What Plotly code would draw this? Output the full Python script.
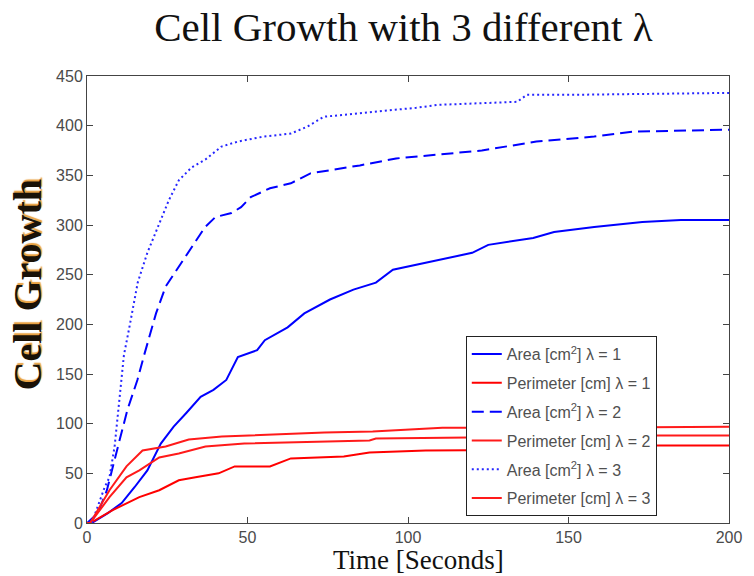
import plotly.graph_objects as go

# Area curves (cm^2) sampled over time (s)
t_area1 = [0, 1.5, 6.5, 10.8, 14.8, 18.8, 23, 27, 31, 35.4, 39.4, 43.4, 47, 53, 55.4, 62.5, 67.7,
           75.7, 83, 90, 95.3, 102.5, 109.5, 120, 125, 139, 145.5, 158, 173, 185, 200]
area1 = [0, 0, 10, 20, 36, 53, 80, 97, 111, 127, 134, 144, 167, 174, 184, 197, 211,
         225, 235, 242, 255, 260, 265, 272, 280, 287, 293, 298, 303, 305, 305]

t_area2 = [0, 3.4, 6.2, 7.7, 10.2, 12.6, 15.7, 17.8, 21.5, 24.5, 28.6, 32.6, 36.8, 40, 45, 48, 51,
           57, 63.5, 69.6, 75.8, 85, 96.3, 110, 123, 140, 158, 170, 185, 200]
area2 = [0, 10, 33, 53, 84, 114, 144, 169, 211, 238, 258, 278, 298, 308, 312, 318, 328,
         337, 342, 352, 355, 360, 367, 371, 375, 384, 389, 394, 395, 396]

t_area3 = [0, 1.5, 5.5, 7, 8.6, 9.5, 10.8, 11.5, 13.2, 15.8, 18.8, 21.8, 25.5, 28.6, 32.6, 36.9,
           41.9, 47, 55, 63.5, 68.6, 73.8, 88, 96, 102.5, 109.5, 134, 137, 150, 175, 200]
area3 = [0, 0, 36, 46, 77, 107, 144, 169, 197, 242, 272, 295, 325, 345, 358, 366,
         379, 384, 389, 392, 399, 409, 413, 416, 418, 421, 424, 431, 431, 432, 433]

# Perimeter curves (cm)
t_per1 = [0, 1, 8, 16.3, 22.5, 28.6, 33.8, 41, 46, 57, 63.5, 80, 88, 105.5, 150, 170, 175, 200]
per1 = [0, 0, 13, 26, 33, 43, 46, 50, 57, 57, 65, 67, 71, 73, 74, 75, 78, 78]

t_per2 = [0, 1, 7, 12.3, 16.3, 22.5, 28.6, 36.9, 49, 88, 90, 119, 170, 172, 200]
per2 = [0, 0, 26, 46, 53, 66, 70, 77, 80, 83, 85, 86, 86, 88, 88]

t_per3 = [0, 1, 7, 12.3, 17.3, 24.5, 31.7, 42, 74, 89, 110.7, 150, 200]
per3 = [0, 0, 33, 57, 73, 77, 84, 87, 91, 92, 96, 96, 97]

x_ticks = [0, 50, 100, 150, 200]
y_ticks = [0, 50, 100, 150, 200, 250, 300, 350, 400, 450]

series = [
    ("Area [cm<sup>2</sup>] λ = 1", t_area1, area1, "#0000ff", "solid"),
    ("Perimeter [cm] λ = 1", t_per1, per1, "#ff0000", "solid"),
    ("Area [cm<sup>2</sup>] λ = 2", t_area2, area2, "#0000ff", "12px,6px"),
    ("Perimeter [cm] λ = 2", t_per2, per2, "#ff1a1a", "solid"),
    ("Area [cm<sup>2</sup>] λ = 3", t_area3, area3, "#2626ff", "2px,3px"),
    ("Perimeter [cm] λ = 3", t_per3, per3, "#ff1a1a", "solid"),
]

fig = go.Figure()
for i, (name, tx, vy, color, dash) in enumerate(series):
    fig.add_trace(go.Scatter(
        x=tx, y=vy, mode="lines", name=name, legendgroup=f"g{i}",
        line=dict(color=color, width=2, dash=dash),
    ))

axis_common = dict(
    showline=True, linecolor="#444444", linewidth=1, mirror="ticks",
    ticks="inside", ticklen=6, tickcolor="#444444", showgrid=False, zeroline=False,
    tickfont=dict(family="Liberation Sans, Arial, sans-serif", size=16, color="#4a4a4a"),
)

serif = "Liberation Serif, Times New Roman, serif"

fig.update_layout(
    width=754, height=576,
    margin=dict(l=87, r=17, t=76, b=53),
    paper_bgcolor="white", plot_bgcolor="white",
    title=dict(
        text="Cell Growth with 3 different λ",
        font=dict(family=serif, size=41, color="#111111"),
        x=0.535, xanchor="center", y=0.953, yanchor="middle",
    ),
    xaxis=dict(range=[0, 200], tickvals=x_ticks, **axis_common),
    yaxis=dict(range=[0, 450], tickvals=y_ticks, **axis_common),
    legend=dict(
        x=0.59, y=0.418, xanchor="left", yanchor="top",
        bgcolor="white", bordercolor="#222222", borderwidth=1,
        font=dict(family="Liberation Sans, Arial, sans-serif", size=16, color="#505050"),
        tracegroupgap=5, itemwidth=30,
    ),
    showlegend=True,
    annotations=[
        dict(text="Time [Seconds]", xref="paper", yref="paper", x=0.517, y=-0.082,
             xanchor="center", yanchor="middle", showarrow=False,
             font=dict(family=serif, size=27, color="#111111")),
        dict(text="<b>Cell Growth</b>", xref="paper", yref="paper", x=-0.093, y=0.532,
             xanchor="center", yanchor="middle", textangle=-90, showarrow=False,
             font=dict(family=serif, size=40, color="#1a1208", shadow="2px 1px 1px #e8a040")),
    ],
)

fig.write_html("out.html")
